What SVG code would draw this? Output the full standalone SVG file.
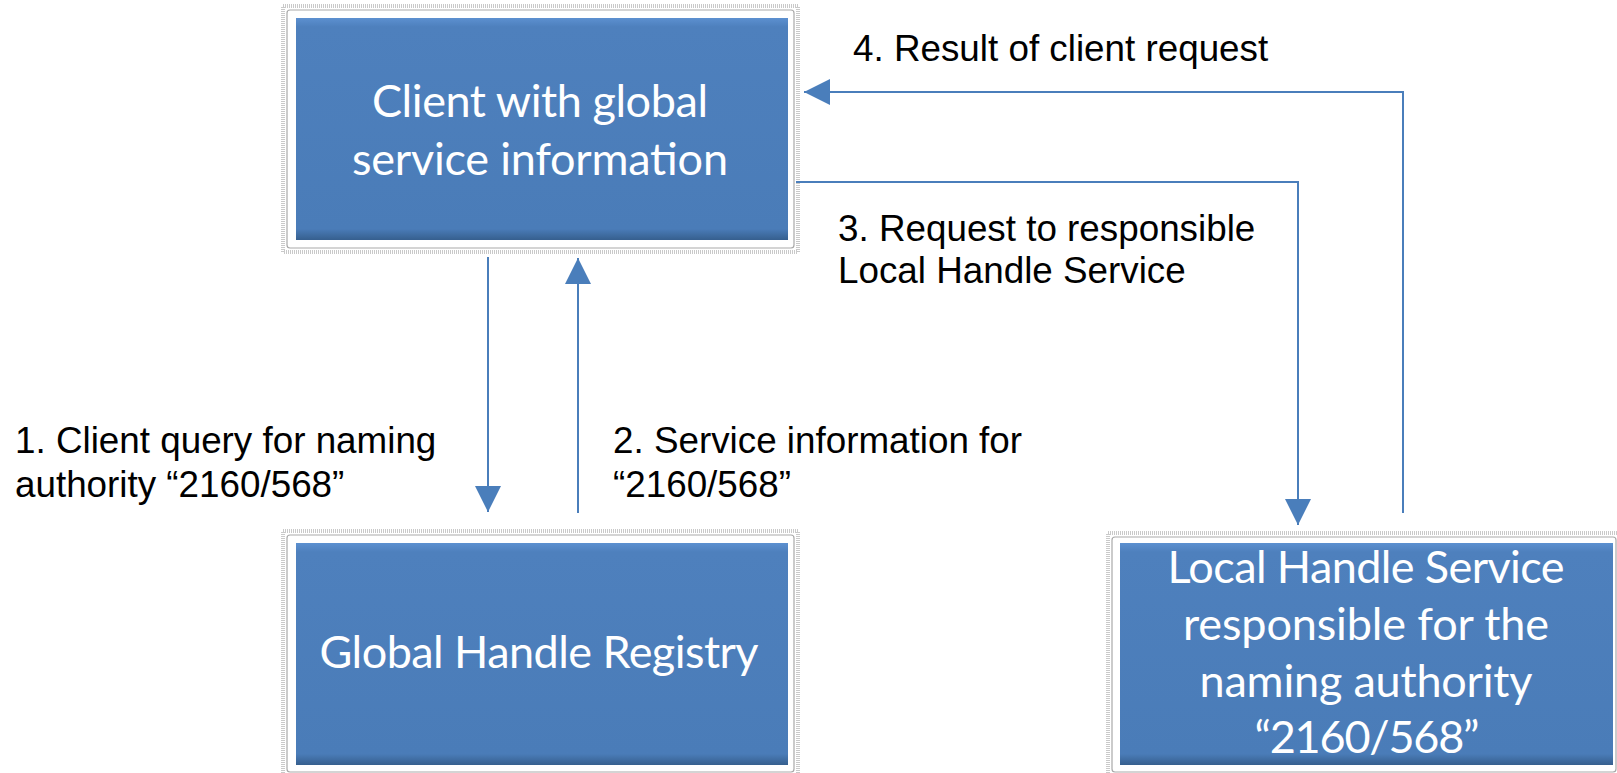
<svg xmlns="http://www.w3.org/2000/svg" width="1617" height="773" viewBox="0 0 1617 773">
<style>
.frame{fill:#ffffff;stroke:#a9a9a9;stroke-width:1.2}
.halo{fill:none;stroke:#c9c9c9;stroke-width:4;stroke-dasharray:1 1}
.blue{fill:url(#bev)}
.bt{font-family:Lato,"Open Sans",sans-serif;font-size:45px;fill:#ffffff;text-anchor:middle}
.lbl{font-family:"Liberation Sans",Arial,sans-serif;font-size:36.8px;fill:#000000}
.con{fill:none;stroke:#4A7EBB;stroke-width:2}
</style>
<defs>
<linearGradient id="bev" x1="0" y1="0" x2="0" y2="1">
<stop offset="0" stop-color="#5C90D0"/>
<stop offset="0.04" stop-color="#4E80BD"/>
<stop offset="0.95" stop-color="#4A7CB8"/>
<stop offset="1" stop-color="#365F8E"/>
</linearGradient>
<marker id="ah" markerUnits="userSpaceOnUse" markerWidth="26" markerHeight="26" refX="25" refY="12.5" orient="auto" viewBox="0 0 25 25">
<path d="M0,0 L25,12.5 L0,25 z" fill="#4A7EBB"/>
</marker>
</defs>
<rect width="1617" height="773" fill="#ffffff"/>
<g id="client">
<rect class="halo" x="283" y="6" width="515" height="246"/>
<rect class="frame" x="287" y="10" width="507" height="238" rx="3"/>
<rect class="blue" x="296" y="18" width="492" height="222"/>
<text class="bt" x="540" y="117" textLength="336">Client with global</text>
<text class="bt" x="540" y="175" textLength="376">service information</text>
</g>
<g id="registry">
<rect class="halo" x="283" y="531" width="515" height="245"/>
<rect class="frame" x="287" y="535" width="507" height="237" rx="3"/>
<rect class="blue" x="296" y="543" width="492" height="222"/>
<text class="bt" x="539" y="668" textLength="439">Global Handle Registry</text>
</g>
<g id="local">
<rect class="halo" x="1108" y="533" width="512" height="243"/>
<rect class="frame" x="1112" y="537" width="504" height="235" rx="3"/>
<rect class="blue" x="1120" y="543" width="493" height="222"/>
<text class="bt" x="1366" y="583" textLength="397">Local Handle Service</text>
<text class="bt" x="1366" y="640" textLength="366">responsible for the</text>
<text class="bt" x="1366" y="697" textLength="333">naming authority</text>
<text class="bt" x="1367" y="753" textLength="225">“2160/568”</text>
</g>
<g id="connectors">
<path class="con" d="M488,257 V512" marker-end="url(#ah)"/>
<path class="con" d="M578,513 V258" marker-end="url(#ah)"/>
<path class="con" d="M796,182 H1298 V525" marker-end="url(#ah)"/>
<path class="con" d="M1403,513 V92 H804" marker-end="url(#ah)"/>
</g>
<g id="labels">
<text class="lbl" x="15" y="453">1. Client query for naming</text>
<text class="lbl" x="15" y="497">authority “2160/568”</text>
<text class="lbl" x="613" y="453">2. Service information for</text>
<text class="lbl" x="613" y="497">“2160/568”</text>
<text class="lbl" x="838" y="241">3. Request to responsible</text>
<text class="lbl" x="838" y="283">Local Handle Service</text>
<text class="lbl" x="853" y="61">4. Result of client request</text>
</g>
</svg>
